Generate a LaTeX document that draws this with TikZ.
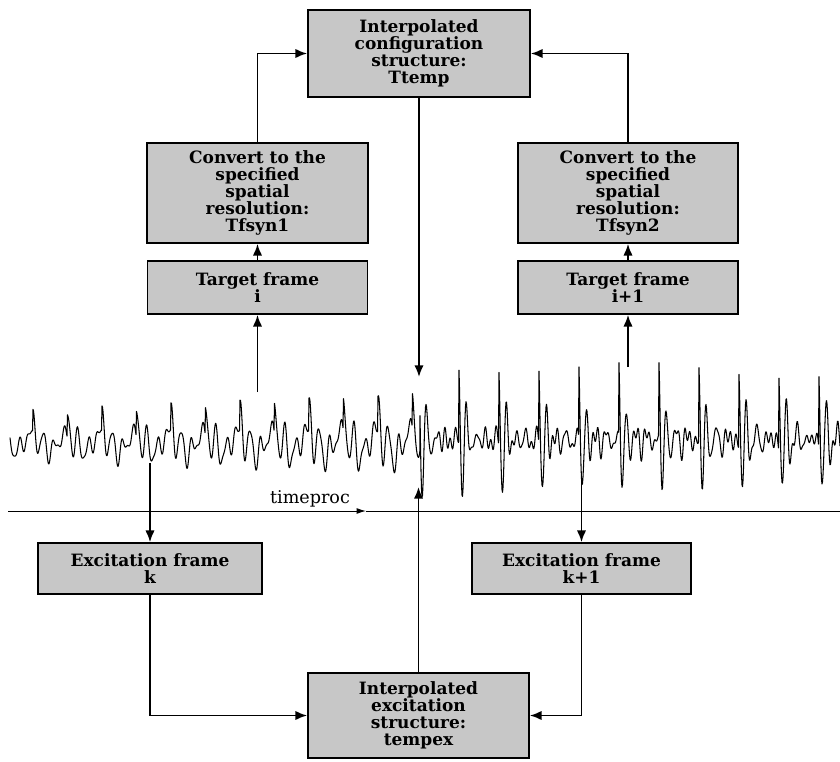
\documentclass[tikz,border=0pt]{standalone}
\usepackage{fontspec}
\setmainfont{DejaVu Serif}
\usetikzlibrary{arrows.meta, positioning, calc}

\begin{document}
\begin{tikzpicture}[
  x=0.03cm, y=-0.03cm,
  pbox/.style={draw, line width=1.4pt, fill=black!22, align=center, inner sep=1pt, font=\bfseries\fontsize{14.5}{14.5}\selectfont},
  flow/.style={line width=1.6pt, -{Latex[length=10pt, width=8pt]}},
  wave/.style={line width=0.9pt, line join=round}
]
  \useasboundingbox (0,0) rectangle (840,762);

  \node[pbox, minimum width=6.66cm, minimum height=2.61cm] (tconf) at (419,53.5) {Interpolated\\configuration\\structure:\\Ttemp};
  \node[pbox, minimum width=6.63cm, minimum height=3.0cm] (conv1) at (257.5,193) {Convert to the\\specified\\spatial\\resolution:\\Tfsyn1};
  \node[pbox, minimum width=6.6cm, minimum height=3.0cm] (conv2) at (628,193) {Convert to the\\specified\\spatial\\resolution:\\Tfsyn2};
  \node[pbox, minimum width=6.6cm, minimum height=1.59cm] (targ1) at (257.5,287.5) {Target frame\\i};
  \node[pbox, minimum width=6.6cm, minimum height=1.59cm] (targ2) at (628,287.5) {Target frame\\i+1};
  \node[pbox, minimum width=6.72cm, minimum height=1.53cm] (exc1) at (150,568.5) {Excitation frame\\k};
  \node[pbox, minimum width=6.57cm, minimum height=1.53cm] (exc2) at (581.5,568.5) {Excitation frame\\k+1};
  \node[pbox, minimum width=6.63cm, minimum height=2.55cm] (tex) at (418.5,715.5) {Interpolated\\excitation\\structure:\\tempex};

  \draw[wave] plot[domain=10:420, samples=821]
    (\x, {442 - (0.85+0.6*(\x-10)/410)*(24*exp(-mod(\x+312,34.5)/22)*cos(mod(\x+312,34.5)/10.5*360)
      + 9*cos(mod(\x+312,34.5)/34.5*360) + 4*sin(mod(\x,6.3)/6.3*360))})
    -- plot[domain=420:840, samples=841]
    (\x, {440 - (70*exp(-mod(\x+21,40)/3)*cos(mod(\x+21,40)/7*360)
      - 32*exp(-mod(\x+21,40)/16)*sin(mod(\x+21,40)/10*360) + 12*exp(-mod(\x+21,40)/25)*sin(mod(\x+21,40)/6*360)
      + 5*sin(mod(\x,5.1)/5.1*360) + 4*sin(mod(\x,13.7)/13.7*360))});

  \coordinate (tpl) at (8,511);
  \coordinate (tpm) at (366,511);
  \coordinate (tpr) at (840,511);
  \draw[line width=0.8pt, -{Latex[length=8pt, width=5pt]}] (tpl) -- (tpm);
  \draw[line width=0.8pt] (tpm) -- (tpr);
  \node[font=\fontsize{15}{16}\selectfont] (tlab) at (310,499) {timeproc};

  \coordinate (dnA) at (419,377);
  \coordinate (upI) at (257.5,392);
  \coordinate (upJ) at (628,367);
  \coordinate (dnK) at (150,463);
  \coordinate (dnL) at (581.5,478);
  \coordinate (upC) at (418.5,487);

  \draw[flow] (conv1.north) |- (tconf.west);
  \draw[flow] (conv2.north) |- (tconf.east);
  \draw[flow] (tconf.south) -- (dnA);
  \draw[flow] (targ1.north) -- (conv1.south);
  \draw[flow] (targ2.north) -- (conv2.south);
  \draw[flow] (upI) -- (targ1.south);
  \draw[flow] (upJ) -- (targ2.south);
  \draw[flow] (dnK) -- (exc1.north);
  \draw[flow] (dnL) -- (exc2.north);
  \draw[flow] (exc1.south) |- (tex.west);
  \draw[flow] (exc2.south) |- (tex.east);
  \draw[flow] (tex.north) -- (upC);
\end{tikzpicture}
\end{document}
